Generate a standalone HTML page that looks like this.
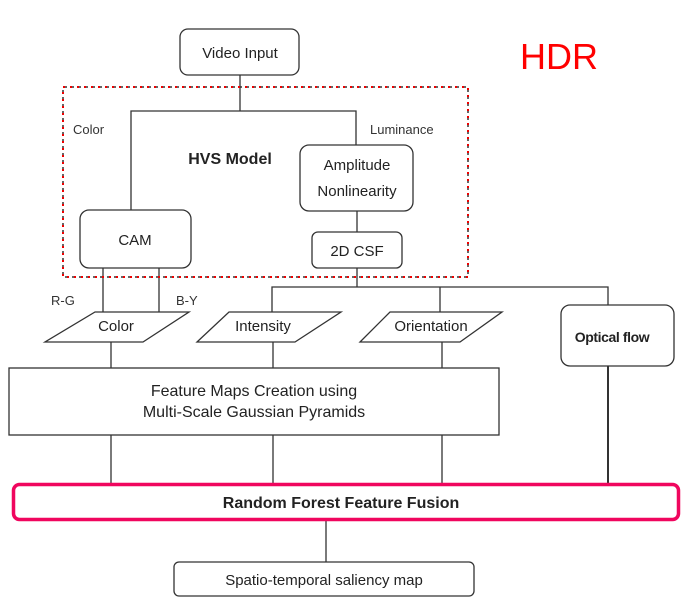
<!DOCTYPE html>
<html><head><style>body{margin:0;background:#fff}svg{display:block}</style></head><body>
<svg width="682" height="607" viewBox="0 0 682 607" xmlns="http://www.w3.org/2000/svg" font-family="Liberation Sans, sans-serif">
<g stroke="#333" stroke-width="1.3" fill="none">
<line x1="240" y1="75" x2="240" y2="111"/>
<polyline points="131,210 131,111 356,111 356,145"/>
<line x1="357" y1="211" x2="357" y2="232"/>
<polyline points="357,268 357,287"/>
<polyline points="272,313 272,287 608,287 608,305"/>
<line x1="440" y1="287" x2="440" y2="313"/>
<line x1="103" y1="268" x2="103" y2="322"/>
<line x1="159" y1="268" x2="159" y2="316"/>
<line x1="111" y1="342" x2="111" y2="368"/>
<line x1="273" y1="342" x2="273" y2="368"/>
<line x1="442" y1="342" x2="442" y2="368"/>
<line x1="111" y1="435" x2="111" y2="484"/>
<line x1="273" y1="435" x2="273" y2="484"/>
<line x1="442" y1="435" x2="442" y2="484"/>
<line x1="608" y1="366" x2="608" y2="484" stroke-width="2"/>
<line x1="326" y1="521" x2="326" y2="562"/>
</g>
<g stroke="#333" stroke-width="1.3" fill="#fff">
<rect x="180" y="29" width="119" height="46" rx="8"/>
<rect x="80" y="210" width="111" height="58" rx="9"/>
<rect x="300" y="145" width="113" height="66" rx="9"/>
<rect x="312" y="232" width="90" height="36" rx="6"/>
<polygon points="95,312 189,312 143,342 45,342"/>
<polygon points="229,312 341,312 295,342 197,342"/>
<polygon points="390,312 502,312 460,342 360,342"/>
<rect x="561" y="305" width="113" height="61" rx="9"/>
<rect x="9" y="368" width="490" height="67"/>
<rect x="174" y="562" width="300" height="34" rx="5"/>
</g>
<rect x="63" y="87" width="405" height="190" fill="none" stroke="#333" stroke-width="1.5" stroke-dasharray="4,3"/>
<rect x="63" y="87" width="405" height="190" fill="none" stroke="#e00" stroke-width="2" stroke-dasharray="2,5"/>
<rect x="13.5" y="484.5" width="665" height="35" rx="6" fill="#fff" stroke="#f0065e" stroke-width="3.5"/>
<g fill="#222" font-size="15" text-anchor="middle">
<text x="240" y="58">Video Input</text>
<text x="135" y="245">CAM</text>
<text x="357" y="170">Amplitude</text>
<text x="357" y="196">Nonlinearity</text>
<text x="357" y="256">2D CSF</text>
<text x="116" y="331">Color</text>
<text x="263" y="331">Intensity</text>
<text x="431" y="331">Orientation</text>
<text x="254" y="396" font-size="16">Feature Maps Creation using</text>
<text x="254" y="417" font-size="16">Multi-Scale Gaussian Pyramids</text>
<text x="324" y="585">Spatio-temporal saliency map</text>
<text x="612" y="342" font-weight="bold" font-size="14" letter-spacing="-0.4">Optical flow</text>
<text x="230" y="164" font-weight="bold" font-size="16">HVS Model</text>
<text x="341" y="508" font-weight="bold" font-size="16">Random Forest Feature Fusion</text>
</g>
<g fill="#333" font-size="13">
<text x="73" y="134">Color</text>
<text x="370" y="134">Luminance</text>
<text x="51" y="305">R-G</text>
<text x="176" y="305">B-Y</text>
</g>
<text x="520" y="69" fill="#f00" font-size="36">HDR</text>
</svg>
</body></html>
